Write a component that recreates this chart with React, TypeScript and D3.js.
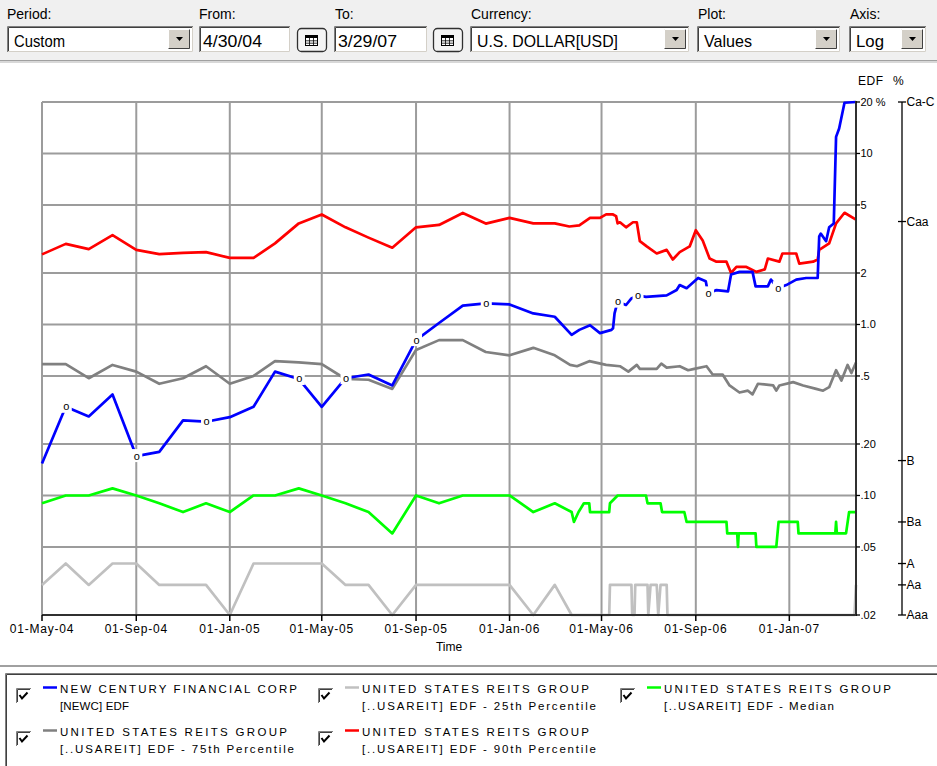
import React from 'react';
import * as d3 from 'd3';

// monthly history up to Mar 2006, daily readings after that
const months = [
  '2004-05-01', '2004-06-01', '2004-07-01', '2004-08-01', '2004-09-01', '2004-10-01',
  '2004-11-01', '2004-12-01', '2005-01-01', '2005-02-01', '2005-03-01', '2005-04-01',
  '2005-05-01', '2005-06-01', '2005-07-01', '2005-08-01', '2005-09-01', '2005-10-01',
  '2005-11-01', '2005-12-01', '2006-01-01', '2006-02-01', '2006-03-01',
];

const newcMonthly = [0.154, 0.33, 0.29, 0.39, 0.17, 0.18, 0.275, 0.27, 0.287, 0.33, 0.53, 0.48,
  0.33, 0.485, 0.51, 0.44, 0.81, 1.02, 1.29, 1.33, 1.31, 1.16, 1.11];
const newcDaily: [string, number][] = [
  ['2006-03-23', 0.87], ['2006-04-02', 0.93], ['2006-04-16', 0.99], ['2006-04-29', 0.89],
  ['2006-05-14', 0.93], ['2006-05-16', 0.95], ['2006-05-18', 1.16], ['2006-05-22', 1.36],
  ['2006-06-02', 1.30], ['2006-06-09', 1.42], ['2006-06-17', 1.48], ['2006-06-28', 1.45],
  ['2006-07-25', 1.48], ['2006-08-07', 1.59], ['2006-08-11', 1.70], ['2006-08-20', 1.63],
  ['2006-09-04', 1.87], ['2006-09-14', 1.79], ['2006-09-17', 1.52], ['2006-09-28', 1.59],
  ['2006-10-13', 1.56], ['2006-10-17', 1.96], ['2006-10-28', 2.03], ['2006-11-14', 2.03],
  ['2006-11-18', 1.67], ['2006-12-04', 1.67], ['2006-12-08', 1.83], ['2006-12-17', 1.63],
  ['2006-12-28', 1.70], ['2007-01-10', 1.83], ['2007-01-23', 1.87], ['2007-02-07', 1.87],
  ['2007-02-09', 3.27], ['2007-02-11', 3.4], ['2007-02-18', 3.07], ['2007-02-22', 3.7],
  ['2007-02-28', 3.9], ['2007-03-03', 12.5], ['2007-03-07', 14.0], ['2007-03-14', 19.8],
  ['2007-03-29', 20],
];
const newcNotes = ['2004-06-01', '2004-09-01', '2004-12-01', '2005-04-01', '2005-06-01', '2005-09-01',
  '2005-12-01', '2006-05-22', '2006-06-17', '2006-09-17', '2006-12-17'];

const p90Monthly = [2.57, 2.96, 2.76, 3.33, 2.73, 2.58, 2.62, 2.65, 2.45, 2.45, 2.98, 3.9,
  4.4, 3.7, 3.22, 2.81, 3.7, 3.82, 4.49, 3.89, 4.2, 3.9, 3.9];
const p90Daily: [string, number][] = [
  ['2006-03-20', 3.74], ['2006-04-02', 3.8], ['2006-04-16', 4.2], ['2006-04-29', 4.2],
  ['2006-05-07', 4.4], ['2006-05-16', 4.4], ['2006-05-20', 4.3], ['2006-05-22', 3.9],
  ['2006-05-25', 3.96], ['2006-06-02', 3.7], ['2006-06-11', 3.96], ['2006-06-16', 3.96],
  ['2006-06-20', 3.07], ['2006-06-29', 2.86], ['2006-07-12', 2.6], ['2006-07-25', 2.73],
  ['2006-08-02', 2.4], ['2006-08-11', 2.65], ['2006-08-24', 2.86], ['2006-09-01', 3.56],
  ['2006-09-10', 3.1], ['2006-09-19', 2.43], ['2006-09-28', 2.33], ['2006-10-11', 2.33],
  ['2006-10-17', 2.0], ['2006-10-24', 2.17], ['2006-11-06', 2.17], ['2006-11-19', 2.03],
  ['2006-11-30', 2.1], ['2006-12-04', 2.43], ['2006-12-19', 2.33], ['2006-12-23', 2.6],
  ['2007-01-10', 2.6], ['2007-01-14', 2.27], ['2007-02-01', 2.33], ['2007-02-07', 2.4],
  ['2007-02-09', 2.73], ['2007-02-22', 2.98], ['2007-03-03', 3.9], ['2007-03-14', 4.5],
  ['2007-03-29', 4.1],
];

const p75Monthly = [0.587, 0.587, 0.485, 0.58, 0.53, 0.45, 0.485, 0.57, 0.45, 0.50, 0.61, 0.60,
  0.587, 0.48, 0.475, 0.42, 0.71, 0.81, 0.81, 0.69, 0.66, 0.73, 0.66];
const p75Daily: [string, number][] = [
  ['2006-03-21', 0.58], ['2006-03-30', 0.57], ['2006-04-15', 0.61], ['2006-05-07', 0.58],
  ['2006-05-25', 0.57], ['2006-06-05', 0.53], ['2006-06-16', 0.58], ['2006-06-20', 0.55],
  ['2006-07-12', 0.55], ['2006-07-18', 0.59], ['2006-07-25', 0.56], ['2006-08-11', 0.57],
  ['2006-08-22', 0.54], ['2006-08-30', 0.55], ['2006-09-15', 0.57], ['2006-09-23', 0.51],
  ['2006-10-06', 0.51], ['2006-10-15', 0.44], ['2006-10-28', 0.40], ['2006-11-08', 0.41],
  ['2006-11-14', 0.39], ['2006-11-21', 0.45], ['2006-12-11', 0.44], ['2006-12-15', 0.41],
  ['2006-12-19', 0.44], ['2007-01-06', 0.46], ['2007-01-19', 0.44], ['2007-02-05', 0.42],
  ['2007-02-14', 0.41], ['2007-02-22', 0.43], ['2007-03-03', 0.54], ['2007-03-10', 0.47],
  ['2007-03-18', 0.58], ['2007-03-23', 0.52], ['2007-03-29', 0.60],
];

const medianMonthly = [0.09, 0.10, 0.10, 0.11, 0.10, 0.09, 0.08, 0.09, 0.08, 0.10, 0.10, 0.11,
  0.10, 0.09, 0.08, 0.06, 0.10, 0.09, 0.10, 0.10, 0.10, 0.08, 0.09];
const medianDaily: [string, number][] = [
  ['2006-03-23', 0.08], ['2006-03-26', 0.07], ['2006-04-01', 0.08], ['2006-04-08', 0.09],
  ['2006-04-15', 0.09], ['2006-04-16', 0.08], ['2006-05-11', 0.08], ['2006-05-12', 0.09],
  ['2006-05-22', 0.10], ['2006-06-28', 0.10], ['2006-06-30', 0.09], ['2006-07-17', 0.09],
  ['2006-07-19', 0.08], ['2006-08-17', 0.08], ['2006-08-20', 0.07], ['2006-10-11', 0.07],
  ['2006-10-12', 0.06], ['2006-10-25', 0.06], ['2006-10-26', 0.05], ['2006-10-27', 0.06],
  ['2006-11-18', 0.06], ['2006-11-19', 0.05], ['2006-12-15', 0.05], ['2006-12-18', 0.07],
  ['2007-01-12', 0.07], ['2007-01-13', 0.06], ['2007-03-02', 0.06], ['2007-03-03', 0.07],
  ['2007-03-04', 0.06], ['2007-03-16', 0.06], ['2007-03-20', 0.08], ['2007-03-29', 0.08],
];

const p25Monthly = [0.03, 0.04, 0.03, 0.04, 0.04, 0.03, 0.03, 0.03, 0.02, 0.04, 0.04, 0.04,
  0.04, 0.03, 0.03, 0.02, 0.03, 0.03, 0.03, 0.03, 0.03, 0.02, 0.03];
const p25Daily: [string, number][] = [
  ['2006-03-23', 0.02], ['2006-05-11', 0.02], ['2006-05-12', 0.03], ['2006-06-09', 0.03],
  ['2006-06-10', 0.02], ['2006-06-13', 0.02], ['2006-06-14', 0.03], ['2006-06-30', 0.03],
  ['2006-07-01', 0.02], ['2006-07-04', 0.03], ['2006-07-12', 0.03], ['2006-07-14', 0.02],
  ['2006-07-17', 0.03], ['2006-07-25', 0.03], ['2006-07-26', 0.02], ['2007-03-27', 0.02],
  ['2007-03-29', 0.03],
];

const edfTicks = [20, 10, 5, 2, 1, 0.5, 0.2, 0.1, 0.05, 0.02];
const edfTickLabels = ['20 %', '10', '5', '2', '1.0', '.5', '.20', '.10', '.05', '.02'];
const ratingNames = ['Ca-C', 'Caa', 'B', 'Ba', 'A', 'Aa', 'Aaa'];
const ratingEdf = [20, 4.0, 0.16, 0.07, 0.04, 0.03, 0.02];

const legendTitles = ['NEW CENTURY FINANCIAL CORP', 'UNITED STATES REITS GROUP', 'UNITED STATES REITS GROUP',
  'UNITED STATES REITS GROUP', 'UNITED STATES REITS GROUP'];
const legendSubtitles = ['[NEWC] EDF', '[..USAREIT] EDF - 25th Percentile', '[..USAREIT] EDF - Median',
  '[..USAREIT] EDF - 75th Percentile', '[..USAREIT] EDF - 90th Percentile'];

const font = 'Arial, "Liberation Sans", sans-serif';
const parse = d3.timeParse('%Y-%m-%d');
const x = d3.scaleTime().domain([parse('2004-05-01')!, parse('2007-03-29')!]).range([42, 856]);
const y = d3.scaleLog().domain([0.02, 20]).range([615, 102]);

const join = (monthly: number[], daily: [string, number][]): [string, number][] =>
  [...months.map((d, i) => [d, monthly[i]] as [string, number]), ...daily];

const line = d3.line<[string, number]>().x(d => x(parse(d[0])!)).y(d => y(d[1]));

const newc = join(newcMonthly, newcDaily);
const series = [
  { data: join(p25Monthly, p25Daily), color: '#c0c0c0' },
  { data: join(medianMonthly, medianDaily), color: '#00ff00' },
  { data: join(p75Monthly, p75Daily), color: '#808080' },
  { data: join(p90Monthly, p90Daily), color: '#ff0000' },
  { data: newc, color: '#0000ff' },
];
// legend order: row 1 = newc, 25th, median; row 2 = 75th, 90th
const legendColors = ['#0000ff', '#c0c0c0', '#00ff00', '#808080', '#ff0000'];
const legendSubWidth = [69, 234, 170, 234, 234];

const Combo = ({ x0, w, text, tw }: { x0: number; w: number; text: string; tw: number }) => (
  <g>
    <rect x={x0} y={26} width={w} height={26} fill="#fff" />
    <path d={`M${x0 + 0.5},52 V26.5 H${x0 + w}`} stroke="#808080" fill="none" />
    <path d={`M${x0 + 1.5},51 V27.5 H${x0 + w - 1}`} stroke="#404040" fill="none" />
    <path d={`M${x0 + 1},51.5 H${x0 + w - 0.5} V27`} stroke="#d4d0c8" fill="none" />
    <text x={x0 + 7} y={46.5} fontSize={17} textLength={tw} lengthAdjust="spacingAndGlyphs" fontFamily={font}>{text}</text>
    <rect x={x0 + w - 25} y={29} width={22} height={20} fill="#d4d0c8" />
    <path d={`M${x0 + w - 24.5},49 V29.5 H${x0 + w - 3}`} stroke="#fff" fill="none" />
    <path d={`M${x0 + w - 24.5},48.5 H${x0 + w - 3.5} V29.5`} stroke="#404040" fill="none" />
    <path d={`M${x0 + w - 17},37 h7 l-3.5,4 z`} fill="#000" />
  </g>
);

const Input = ({ x0, w, text, tw }: { x0: number; w: number; text: string; tw: number }) => (
  <g>
    <rect x={x0} y={26} width={w} height={26} fill="#fff" />
    <path d={`M${x0 + 0.5},52 V26.5 H${x0 + w}`} stroke="#808080" fill="none" />
    <path d={`M${x0 + 1.5},51 V27.5 H${x0 + w - 1}`} stroke="#404040" fill="none" />
    <path d={`M${x0 + 1},51.5 H${x0 + w - 0.5} V27`} stroke="#d4d0c8" fill="none" />
    <text x={x0 + 4} y={46.5} fontSize={17} textLength={tw} lengthAdjust="spacingAndGlyphs" fontFamily={font}>{text}</text>
  </g>
);

const CalButton = ({ x0 }: { x0: number }) => (
  <g>
    <rect x={x0 + 0.5} y={28.5} width={29} height={23} rx={4} fill="#f4f4f4" stroke="#303030" strokeWidth={1.3} />
    <rect x={x0 + 8.5} y={35.5} width={12} height={10} fill="#fff" stroke="#000" />
    <rect x={x0 + 8.5} y={35.5} width={12} height={2.5} fill="#000" />
    <path d={`M${x0 + 12.5},38 V45 M${x0 + 16.5},38 V45 M${x0 + 9},40.8 H${x0 + 20} M${x0 + 9},43.2 H${x0 + 20}`} stroke="#000" strokeWidth={0.8} />
  </g>
);

const App = () => {
  const xTicks = x.ticks(d3.timeMonth.every(4)!);
  const fmt = d3.timeFormat('%d-%b-%y');
  const lookup = new Map(newc);

  return (
    <div style={{ position: 'absolute', left: 0, top: 0 }}>
      <svg width={937} height={766} style={{ display: 'block', background: '#fff' }} fontFamily={font}>
        {/* toolbar */}
        <rect x={0} y={0} width={937} height={60} fill="#f0f0f0" />
        <rect x={0} y={60} width={937} height={1} fill="#a0a0a0" />
        <rect x={0} y={61} width={937} height={2} fill="#d8d8d8" />
        {[['Period:', 7], ['From:', 199], ['To:', 335], ['Currency:', 471], ['Plot:', 698], ['Axis:', 850]].map(([t, lx]) => (
          <text key={t as string} x={lx as number} y={18.5} fontSize={14}>{t}</text>
        ))}
        <Combo x0={7} w={186} text="Custom" tw={51} />
        <Input x0={199} w={91} text="4/30/04" tw={59} />
        <CalButton x0={297} />
        <Input x0={334} w={93} text="3/29/07" tw={59} />
        <CalButton x0={433} />
        <Combo x0={470} w={219} text="U.S. DOLLAR[USD]" tw={141} />
        <Combo x0={697} w={143} text="Values" tw={48} />
        <Combo x0={849} w={77} text="Log" tw={28} />

        {/* grid */}
        {edfTicks.slice(0, -1).map(v => (
          <line key={v} x1={42} x2={856} y1={y(v)} y2={y(v)} stroke="#9c9c9c" strokeWidth={2} />
        ))}
        {xTicks.map(d => (
          <line key={+d} x1={x(d)} x2={x(d)} y1={102} y2={615} stroke="#9c9c9c" strokeWidth={2} />
        ))}

        {/* series */}
        {series.map((s, i) => (
          <path key={i} d={line(s.data)!} fill="none" stroke={s.color} strokeWidth={2.7} strokeLinejoin="round" />
        ))}
        {newcNotes.map(d => {
          const px = x(parse(d)!);
          const py = y(lookup.get(d)!);
          return (
            <g key={d}>
              <rect x={px - 5} y={py - 7} width={11} height={13} fill="#fff" />
              <text x={px + 0.5} y={py + 3.5} fontSize={11} textAnchor="middle">o</text>
            </g>
          );
        })}

        {/* x axis */}
        <line x1={42} x2={857} y1={615} y2={615} stroke="#303030" strokeWidth={2} />
        {xTicks.map(d => (
          <g key={+d}>
            <line x1={x(d)} x2={x(d)} y1={615} y2={621} stroke="#000" strokeWidth={1.5} />
            <text x={x(d)} y={632.5} fontSize={12} letterSpacing={0.8} textAnchor="middle">{fmt(d)}</text>
          </g>
        ))}
        <text x={449} y={651} fontSize={12} textAnchor="middle">Time</text>

        {/* EDF axis */}
        <line x1={856} x2={856} y1={101} y2={616} stroke="#303030" strokeWidth={2} />
        {edfTicks.map((v, i) => (
          <g key={v}>
            <line x1={856} x2={860} y1={y(v)} y2={y(v)} stroke="#000" strokeWidth={1.3} />
            <text x={860.5} y={y(v)} dy="0.36em" fontSize={11}>{edfTickLabels[i]}</text>
          </g>
        ))}
        <text x={858} y={85} fontSize={12} letterSpacing={0.6}>EDF</text>
        <text x={893} y={85} fontSize={12}>%</text>

        {/* rating axis */}
        <line x1={902} x2={902} y1={y(20)} y2={y(0.02)} stroke="#000" strokeWidth={1.3} />
        {ratingNames.map((r, i) => (
          <g key={r}>
            <line x1={898} x2={906} y1={y(ratingEdf[i])} y2={y(ratingEdf[i])} stroke="#000" strokeWidth={1.3} />
            <text x={906.5} y={y(ratingEdf[i])} dy="0.36em" fontSize={12}>{r}</text>
          </g>
        ))}

        {/* legend */}
        <rect x={0} y={665} width={937} height={2} fill="#a0a0a0" />
        <path d="M5.5,766 V673.5 H937" stroke="#808080" fill="none" />
        <path d="M6.5,766 V674.5 H937" stroke="#404040" fill="none" />
        {legendTitles.map((t, i) => {
          const col = i < 3 ? i : i - 3;
          const row = i < 3 ? 0 : 1;
          const lx = 16 + col * 302;
          const ly = 688 + row * 43;
          return (
            <g key={i}>
              <rect x={lx} y={ly} width={15} height={15} fill="#fff" />
              <path d={`M${lx + 0.5},${ly + 15} V${ly + 0.5} H${lx + 15}`} stroke="#808080" fill="none" />
              <path d={`M${lx + 1.5},${ly + 14} V${ly + 1.5} H${lx + 14}`} stroke="#404040" fill="none" />
              <path d={`M${lx + 3.5},${ly + 7} l2.5,3.5 l5.5,-6`} stroke="#000" strokeWidth={2} fill="none" />
              <line x1={lx + 27} x2={lx + 41} y1={ly - 0.5} y2={ly - 0.5} stroke={legendColors[i]} strokeWidth={2.5} />
              <text x={lx + 44} y={ly + 5} fontSize={11.5} textLength={t.startsWith('NEW') ? 237 : 227}>{t}</text>
              <text x={lx + 44} y={ly + 22} fontSize={11.5} textLength={legendSubWidth[i]}>{legendSubtitles[i]}</text>
            </g>
          );
        })}
      </svg>
    </div>
  );
};

export default App;
